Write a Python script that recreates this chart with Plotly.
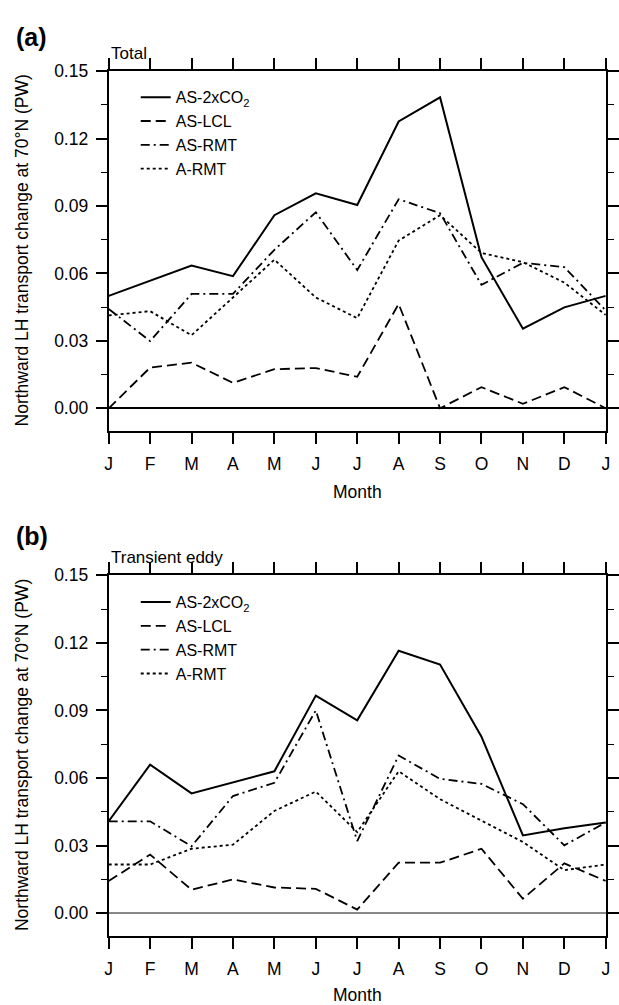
import plotly.graph_objects as go

months = ["J", "F", "M", "A", "M", "J", "J", "A", "S", "O", "N", "D", "J"]
series_names = ["AS-2xCO<sub>2</sub>", "AS-LCL", "AS-RMT", "A-RMT"]

# Panel (a) Total
total_as2xco2 = [0.050, 0.0566, 0.0635, 0.0588, 0.0859, 0.0956, 0.0904, 0.1276, 0.1383, 0.0672, 0.0354, 0.0449, 0.050]
total_aslcl = [0.000, 0.0181, 0.0203, 0.0113, 0.0174, 0.0179, 0.0140, 0.0464, 0.000, 0.0094, 0.0020, 0.0094, 0.000]
total_asrmt = [0.0442, 0.0299, 0.0509, 0.0509, 0.0705, 0.0872, 0.0615, 0.0930, 0.0868, 0.0549, 0.0647, 0.0628, 0.0435]
total_armt = [0.0413, 0.0432, 0.0325, 0.0493, 0.0661, 0.0493, 0.0401, 0.0746, 0.0859, 0.0691, 0.0650, 0.0559, 0.0415]

# Panel (b) Transient eddy
te_as2xco2 = [0.0408, 0.0659, 0.0532, 0.0582, 0.0630, 0.0966, 0.0856, 0.1165, 0.1104, 0.0783, 0.0345, 0.0377, 0.0403]
te_aslcl = [0.0143, 0.0260, 0.0104, 0.0150, 0.0114, 0.0108, 0.0016, 0.0224, 0.0224, 0.0286, 0.0064, 0.0221, 0.0143]
te_asrmt = [0.0408, 0.0408, 0.0297, 0.0520, 0.0579, 0.0900, 0.0320, 0.0700, 0.0596, 0.0574, 0.0484, 0.0301, 0.0403]
te_armt = [0.0216, 0.0216, 0.0286, 0.0304, 0.0454, 0.0540, 0.0360, 0.0630, 0.0506, 0.0410, 0.0316, 0.0191, 0.0216]

y_ticks = [0.00, 0.03, 0.06, 0.09, 0.12, 0.15]

W, H = 619, 1005
FONT = "Liberation Sans, Arial, Helvetica, sans-serif"
x_idx = list(range(len(months)))

styles = [
    dict(color="black", width=2, dash="solid"),
    dict(color="black", width=1.8, dash="10px,5px"),
    dict(color="black", width=1.8, dash="9px,4px,2px,4px"),
    dict(color="black", width=1.8, dash="3px,3px"),
]

fig = go.Figure()
panels = [
    ([total_as2xco2, total_aslcl, total_asrmt, total_armt], "x", "y", "legend"),
    ([te_as2xco2, te_aslcl, te_asrmt, te_armt], "x2", "y2", "legend2"),
]
for data, xa, ya, lg in panels:
    for name, vals, st in zip(series_names, data, styles):
        fig.add_trace(go.Scatter(x=x_idx, y=vals, mode="lines", name=name,
                                 line=st, xaxis=xa, yaxis=ya, legend=lg))

def px_x(p):
    return p / W

def px_y(p):
    return 1 - p / H

xl, xr = px_x(107.3), px_x(616.7)
a_top, a_bot = px_y(61.7), px_y(425)
b_top, b_bot = px_y(571), px_y(935)

common_x = dict(range=[0, 12], tickmode="array", tickvals=x_idx, ticktext=months,
                ticks="outside", ticklen=11, tickwidth=1.5, tickcolor="black",
                showline=True, linecolor="black", linewidth=2, mirror="ticks",
                showgrid=False, zeroline=False, ticklabelstandoff=5,
                tickfont=dict(family=FONT, size=17.5, color="black"))
common_y = dict(range=[-0.01, 0.15], tickmode="array", tickvals=y_ticks, tickformat=".2f",
                ticks="outside", ticklen=11, tickwidth=1.5, tickcolor="black",
                showline=True, linecolor="black", linewidth=2, mirror="ticks",
                showgrid=False, ticklabelstandoff=4,
                minor=dict(dtick=0.015, tick0=0, ticks="outside", ticklen=6,
                           tickwidth=1.2, tickcolor="black", showgrid=False),
                tickfont=dict(family=FONT, size=17.5, color="black"))

fig.update_layout(
    width=W, height=H, margin=dict(l=0, r=0, t=0, b=0),
    paper_bgcolor="white", plot_bgcolor="white",
    font=dict(family=FONT, color="black"),
    xaxis=dict(domain=[xl, xr], anchor="y", **common_x),
    yaxis=dict(domain=[a_bot, a_top], anchor="x", zeroline=True,
               zerolinecolor="black", zerolinewidth=2, **common_y),
    xaxis2=dict(domain=[xl, xr], anchor="y2", **common_x),
    yaxis2=dict(domain=[b_bot, b_top], anchor="x2", zeroline=True,
                zerolinecolor="#888888", zerolinewidth=1.5, **common_y),
    legend=dict(x=px_x(135), y=px_y(71), xanchor="left", yanchor="top",
                bgcolor="rgba(0,0,0,0)", font=dict(family=FONT, size=16),
                tracegroupgap=0, itemwidth=30),
    legend2=dict(x=px_x(135), y=px_y(581), xanchor="left", yanchor="top",
                 bgcolor="rgba(0,0,0,0)", font=dict(family=FONT, size=16),
                 tracegroupgap=0, itemwidth=30),
)

ytitle = "Northward LH transport change at 70\u00b0N (PW)"
annos = [
    dict(text="<b>(a)</b>", x=px_x(10), y=px_y(27), xanchor="left", yanchor="middle", font=dict(size=25)),
    dict(text="<b>(b)</b>", x=px_x(10), y=px_y(531), xanchor="left", yanchor="middle", font=dict(size=25)),
    dict(text="Total", x=px_x(108), y=px_y(44), xanchor="left", yanchor="middle", font=dict(size=17)),
    dict(text="Transient eddy", x=px_x(108), y=px_y(553), xanchor="left", yanchor="middle", font=dict(size=17)),
    dict(text="Month", x=(xl + xr) / 2, y=px_y(487), xanchor="center", yanchor="middle", font=dict(size=17.5)),
    dict(text="Month", x=(xl + xr) / 2, y=px_y(995), xanchor="center", yanchor="middle", font=dict(size=17.5)),
    dict(text=ytitle, x=px_x(18), y=(a_top + a_bot) / 2, textangle=-90, xanchor="center", yanchor="middle", font=dict(size=17.5)),
    dict(text=ytitle, x=px_x(18), y=(b_top + b_bot) / 2, textangle=-90, xanchor="center", yanchor="middle", font=dict(size=17.5)),
]
for a in annos:
    a.update(xref="paper", yref="paper", showarrow=False)
    a["font"] = dict(family=FONT, color="black", **a["font"])
    fig.add_annotation(**a)

fig.write_html("out.html")
